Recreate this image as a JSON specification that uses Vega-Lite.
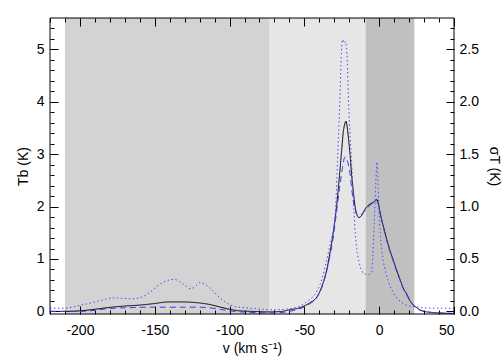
{
  "$schema": "https://vega.github.io/schema/vega-lite/v6.json",
  "width": 404,
  "height": 296,
  "autosize": {"type": "none"},
  "padding": {"left": 50, "top": 18, "right": 50, "bottom": 46},
  "background": "white",
  "config": {
    "view": {"stroke": null},
    "font": "Liberation Sans",
    "axis": {
      "labelFont": "Liberation Sans", "titleFont": "Liberation Sans",
      "labelFontSize": 14, "titleFontSize": 14, "titleFontWeight": "normal",
      "labelColor": "#000", "titleColor": "#000", "tickColor": "#000", "grid": false, "domain": false
    }
  },
  "datasets": {
    "shade": [
      {"v0": -210, "v1": -73.5, "region": "a"},
      {"v0": -73.5, "v1": -9, "region": "b"},
      {"v0": -9, "v1": 23.5, "region": "c"}
    ],
    "tb": [
      {"series": "Tb", "v": -220, "T": 0.0}, {"series": "Tb", "v": -210, "T": 0.0}, {"series": "Tb", "v": -200, "T": 0.01},
      {"series": "Tb", "v": -190, "T": 0.04}, {"series": "Tb", "v": -182, "T": 0.07}, {"series": "Tb", "v": -171, "T": 0.1},
      {"series": "Tb", "v": -160, "T": 0.12}, {"series": "Tb", "v": -150, "T": 0.15}, {"series": "Tb", "v": -141, "T": 0.18},
      {"series": "Tb", "v": -131, "T": 0.18}, {"series": "Tb", "v": -120, "T": 0.16}, {"series": "Tb", "v": -113, "T": 0.13},
      {"series": "Tb", "v": -106, "T": 0.08}, {"series": "Tb", "v": -100, "T": 0.04}, {"series": "Tb", "v": -93, "T": 0.01},
      {"series": "Tb", "v": -85, "T": 0.0}, {"series": "Tb", "v": -73, "T": -0.01}, {"series": "Tb", "v": -65, "T": 0.0},
      {"series": "Tb", "v": -60, "T": 0.03}, {"series": "Tb", "v": -53, "T": 0.07}, {"series": "Tb", "v": -46, "T": 0.17},
      {"series": "Tb", "v": -42, "T": 0.26}, {"series": "Tb", "v": -38, "T": 0.5}, {"series": "Tb", "v": -35, "T": 0.8},
      {"series": "Tb", "v": -33, "T": 1.1}, {"series": "Tb", "v": -30.5, "T": 1.55}, {"series": "Tb", "v": -28.5, "T": 2.0},
      {"series": "Tb", "v": -26.5, "T": 2.6}, {"series": "Tb", "v": -25, "T": 3.1}, {"series": "Tb", "v": -24, "T": 3.42},
      {"series": "Tb", "v": -23, "T": 3.58}, {"series": "Tb", "v": -22.2, "T": 3.63}, {"series": "Tb", "v": -21.3, "T": 3.5},
      {"series": "Tb", "v": -20.5, "T": 3.3}, {"series": "Tb", "v": -19.5, "T": 3.0}, {"series": "Tb", "v": -18.4, "T": 2.6},
      {"series": "Tb", "v": -17.3, "T": 2.3}, {"series": "Tb", "v": -16.2, "T": 2.02}, {"series": "Tb", "v": -15, "T": 1.86},
      {"series": "Tb", "v": -13.5, "T": 1.79}, {"series": "Tb", "v": -11.5, "T": 1.84}, {"series": "Tb", "v": -9.5, "T": 1.95},
      {"series": "Tb", "v": -6, "T": 2.05}, {"series": "Tb", "v": -3, "T": 2.1}, {"series": "Tb", "v": -1.7, "T": 2.14},
      {"series": "Tb", "v": -0.5, "T": 2.05}, {"series": "Tb", "v": 0.5, "T": 1.9}, {"series": "Tb", "v": 3, "T": 1.6},
      {"series": "Tb", "v": 5, "T": 1.38}, {"series": "Tb", "v": 7, "T": 1.18}, {"series": "Tb", "v": 9.4, "T": 0.98},
      {"series": "Tb", "v": 11.5, "T": 0.8}, {"series": "Tb", "v": 13.9, "T": 0.61}, {"series": "Tb", "v": 16, "T": 0.45},
      {"series": "Tb", "v": 18.4, "T": 0.33}, {"series": "Tb", "v": 20.6, "T": 0.2}, {"series": "Tb", "v": 22.8, "T": 0.13},
      {"series": "Tb", "v": 26, "T": 0.05}, {"series": "Tb", "v": 30, "T": 0.0}, {"series": "Tb", "v": 35, "T": -0.02},
      {"series": "Tb", "v": 40, "T": -0.03}, {"series": "Tb", "v": 50, "T": -0.04},
      {"series": "model", "v": -220, "T": 0.0}, {"series": "model", "v": -200, "T": 0.0}, {"series": "model", "v": -193, "T": 0.01},
      {"series": "model", "v": -182, "T": 0.05}, {"series": "model", "v": -169, "T": 0.07}, {"series": "model", "v": -150, "T": 0.08},
      {"series": "model", "v": -130, "T": 0.08}, {"series": "model", "v": -120, "T": 0.08}, {"series": "model", "v": -111, "T": 0.06},
      {"series": "model", "v": -100, "T": 0.01}, {"series": "model", "v": -85, "T": -0.02}, {"series": "model", "v": -71, "T": -0.03},
      {"series": "model", "v": -60, "T": 0.0}, {"series": "model", "v": -53, "T": 0.05}, {"series": "model", "v": -46, "T": 0.15},
      {"series": "model", "v": -42, "T": 0.25}, {"series": "model", "v": -38, "T": 0.48}, {"series": "model", "v": -35, "T": 0.78},
      {"series": "model", "v": -33, "T": 1.05}, {"series": "model", "v": -30.5, "T": 1.45}, {"series": "model", "v": -28.5, "T": 1.9},
      {"series": "model", "v": -26.5, "T": 2.35}, {"series": "model", "v": -24.5, "T": 2.75}, {"series": "model", "v": -22.8, "T": 2.95},
      {"series": "model", "v": -21.3, "T": 2.88}, {"series": "model", "v": -19.6, "T": 2.65}, {"series": "model", "v": -18.4, "T": 2.35},
      {"series": "model", "v": -17.3, "T": 2.1}, {"series": "model", "v": -16.2, "T": 1.95}, {"series": "model", "v": -14.5, "T": 1.83},
      {"series": "model", "v": -12.5, "T": 1.84}, {"series": "model", "v": -10.6, "T": 1.89}, {"series": "model", "v": -6, "T": 2.03},
      {"series": "model", "v": -3, "T": 2.09}, {"series": "model", "v": -1.7, "T": 2.12}, {"series": "model", "v": -0.5, "T": 2.02},
      {"series": "model", "v": 0.5, "T": 1.88}, {"series": "model", "v": 3, "T": 1.58}, {"series": "model", "v": 5, "T": 1.36},
      {"series": "model", "v": 7, "T": 1.16}, {"series": "model", "v": 9.4, "T": 0.96}, {"series": "model", "v": 11.5, "T": 0.78},
      {"series": "model", "v": 13.9, "T": 0.6}, {"series": "model", "v": 16, "T": 0.44}, {"series": "model", "v": 18.4, "T": 0.32},
      {"series": "model", "v": 20.6, "T": 0.2}, {"series": "model", "v": 22.8, "T": 0.12}, {"series": "model", "v": 26, "T": 0.04},
      {"series": "model", "v": 30, "T": 0.0}, {"series": "model", "v": 35, "T": -0.02}, {"series": "model", "v": 40, "T": -0.03},
      {"series": "model", "v": 50, "T": -0.04}
    ],
    "tau": [
      {"v": -220, "s": 0.03}, {"v": -211, "s": 0.03}, {"v": -205, "s": 0.04}, {"v": -199, "s": 0.06}, {"v": -190, "s": 0.09},
      {"v": -183, "s": 0.115}, {"v": -178, "s": 0.13}, {"v": -172, "s": 0.125}, {"v": -165, "s": 0.12}, {"v": -160, "s": 0.13},
      {"v": -153, "s": 0.185}, {"v": -146.5, "s": 0.26}, {"v": -140, "s": 0.3}, {"v": -137, "s": 0.305}, {"v": -134, "s": 0.29},
      {"v": -130, "s": 0.25}, {"v": -126, "s": 0.215}, {"v": -122, "s": 0.25}, {"v": -120, "s": 0.275}, {"v": -117, "s": 0.265},
      {"v": -113, "s": 0.22}, {"v": -108, "s": 0.15}, {"v": -104, "s": 0.1}, {"v": -100, "s": 0.065}, {"v": -96, "s": 0.045},
      {"v": -90, "s": 0.035}, {"v": -82, "s": 0.025}, {"v": -71, "s": 0.015}, {"v": -60, "s": 0.025}, {"v": -53, "s": 0.05},
      {"v": -47.6, "s": 0.1}, {"v": -44, "s": 0.145}, {"v": -41, "s": 0.21}, {"v": -38.4, "s": 0.3}, {"v": -35.5, "s": 0.465},
      {"v": -33, "s": 0.625}, {"v": -31, "s": 0.75}, {"v": -29.5, "s": 0.9}, {"v": -28.6, "s": 1.15}, {"v": -27.7, "s": 1.5},
      {"v": -26.8, "s": 1.8}, {"v": -26.2, "s": 2.05}, {"v": -25.5, "s": 2.38}, {"v": -24.5, "s": 2.595}, {"v": -23.5, "s": 2.56},
      {"v": -22.5, "s": 2.575}, {"v": -21.3, "s": 2.38}, {"v": -20.6, "s": 2.06}, {"v": -19.9, "s": 1.805}, {"v": -18.8, "s": 1.52},
      {"v": -17.7, "s": 1.2}, {"v": -16.8, "s": 0.945}, {"v": -16, "s": 0.75}, {"v": -15, "s": 0.6}, {"v": -13.5, "s": 0.475},
      {"v": -12, "s": 0.4}, {"v": -10.6, "s": 0.365}, {"v": -7.3, "s": 0.35}, {"v": -5, "s": 0.375}, {"v": -4.2, "s": 0.55},
      {"v": -3.4, "s": 0.8}, {"v": -2.7, "s": 1.05}, {"v": -2.1, "s": 1.275}, {"v": -1.5, "s": 1.425}, {"v": -0.9, "s": 1.3},
      {"v": -0.2, "s": 1.0}, {"v": 0.7, "s": 0.75}, {"v": 1.7, "s": 0.595}, {"v": 3, "s": 0.46}, {"v": 5, "s": 0.34},
      {"v": 7, "s": 0.25}, {"v": 9.4, "s": 0.18}, {"v": 12, "s": 0.125}, {"v": 15, "s": 0.085}, {"v": 18, "s": 0.06},
      {"v": 20.6, "s": 0.05}, {"v": 26.2, "s": 0.04}, {"v": 30, "s": 0.033}, {"v": 50, "s": 0.03}
    ],
    "frame": [{"x0": -220, "x1": 50, "y0": -0.05, "y1": 5.6}]
  },
  "layer": [
    {
      "data": {"name": "shade"},
      "mark": {"type": "rect"},
      "encoding": {
        "x": {"field": "v0", "type": "quantitative",
              "scale": {"domain": [-220, 50], "nice": false, "zero": false}, "axis": null},
        "x2": {"field": "v1"},
        "color": {"field": "region", "type": "nominal",
                  "scale": {"domain": ["a", "b", "c"], "range": ["rgba(0,0,0,0.1725)", "rgba(0,0,0,0.098)", "rgba(0,0,0,0.247)"]}, "legend": null}
      }
    },
    {
      "data": {"name": "tb"},
      "mark": {"type": "line", "strokeWidth": 1, "interpolate": "monotone", "clip": true},
      "encoding": {
        "x": {"field": "v", "type": "quantitative",
              "scale": {"domain": [-220, 50], "nice": false, "zero": false},
              "axis": {"orient": "bottom", "values": [-200, -150, -100, -50, 0, 50], "offset": -8, "tickSize": 8, "labelPadding": 9,
                       "labelExpr": "replace(datum.label, '\u2212', '-')", "title": "v (km s\u207b\u00b9)", "titlePadding": 4}},
        "y": {"field": "T", "type": "quantitative",
              "scale": {"domain": [-0.05, 5.6], "nice": false, "zero": false},
              "axis": {"orient": "left", "values": [0, 1, 2, 3, 4, 5], "offset": -8, "tickSize": 8, "labelPadding": 6,
                       "title": "Tb (K)", "titlePadding": 6}},
        "color": {"field": "series", "type": "nominal",
                  "scale": {"domain": ["Tb", "model"], "range": ["#000000", "#3a3aff"]}, "legend": null},
        "strokeDash": {"field": "series", "type": "nominal",
                       "scale": {"domain": ["Tb", "model"], "range": [[1, 0], [6, 4]]}, "legend": null}
      }
    },
    {
      "data": {"name": "tau"},
      "mark": {"type": "line", "strokeWidth": 1, "interpolate": "monotone", "color": "#4a4aff", "strokeDash": [1.5, 2.5], "clip": true},
      "encoding": {
        "x": {"field": "v", "type": "quantitative",
              "scale": {"domain": [-220, 50], "nice": false, "zero": false},
              "axis": {"orient": "bottom", "values": [-220, -210, -200, -190, -180, -170, -160, -150, -140, -130, -120, -110, -100, -90, -80, -70, -60, -50, -40, -30, -20, -10, 0, 10, 20, 30, 40, 50],
                       "offset": -4, "tickSize": 4, "labels": false, "title": null}},
        "y": {"field": "s", "type": "quantitative",
              "scale": {"domain": [-0.025, 2.8], "nice": false, "zero": false},
              "axis": {"orient": "right", "values": [0, 0.5, 1, 1.5, 2, 2.5], "format": ".1f", "offset": -8, "tickSize": 8, "labelPadding": 5,
                       "title": "\u03c3T (K)", "titlePadding": 8}}
      }
    },
    {
      "data": {"name": "tb"},
      "mark": {"type": "point", "opacity": 0},
      "encoding": {
        "x": {"field": "v", "type": "quantitative",
              "scale": {"domain": [-220, 50], "nice": false, "zero": false},
              "axis": {"orient": "top", "values": [-220, -210, -200, -190, -180, -170, -160, -150, -140, -130, -120, -110, -100, -90, -80, -70, -60, -50, -40, -30, -20, -10, 0, 10, 20, 30, 40, 50],
                       "offset": -4, "tickSize": 4, "labels": false, "title": null}},
        "y": {"field": "T", "type": "quantitative",
              "scale": {"domain": [-0.05, 5.6], "nice": false, "zero": false},
              "axis": {"orient": "left", "values": [0, 0.2, 0.4, 0.6, 0.8, 1, 1.2, 1.4, 1.6, 1.8, 2, 2.2, 2.4, 2.6, 2.8, 3, 3.2, 3.4, 3.6, 3.8, 4, 4.2, 4.4, 4.6, 4.8, 5, 5.2, 5.4],
                       "offset": -4, "tickSize": 4, "labels": false, "title": null}}
      }
    },
    {
      "data": {"name": "tau"},
      "mark": {"type": "point", "opacity": 0},
      "encoding": {
        "x": {"field": "v", "type": "quantitative",
              "scale": {"domain": [-220, 50], "nice": false, "zero": false},
              "axis": {"orient": "top", "values": [-200, -150, -100, -50, 0, 50], "offset": -8, "tickSize": 8, "labels": false, "title": null}},
        "y": {"field": "s", "type": "quantitative",
              "scale": {"domain": [-0.025, 2.8], "nice": false, "zero": false},
              "axis": {"orient": "right", "values": [0, 0.1, 0.2, 0.3, 0.4, 0.5, 0.6, 0.7, 0.8, 0.9, 1, 1.1, 1.2, 1.3, 1.4, 1.5, 1.6, 1.7, 1.8, 1.9, 2, 2.1, 2.2, 2.3, 2.4, 2.5, 2.6, 2.7],
                       "offset": -4, "tickSize": 4, "labels": false, "title": null}}
      }
    },
    {
      "data": {"name": "frame"},
      "mark": {"type": "rect", "fill": null, "fillOpacity": 0, "stroke": "black", "strokeWidth": 1},
      "encoding": {
        "x": {"field": "x0", "type": "quantitative", "scale": {"domain": [-220, 50], "nice": false, "zero": false}, "axis": null},
        "x2": {"field": "x1"},
        "y": {"field": "y0", "type": "quantitative", "scale": {"domain": [-0.05, 5.6], "nice": false, "zero": false}, "axis": null},
        "y2": {"field": "y1"}
      }
    }
  ],
  "resolve": {
    "scale": {"y": "independent", "color": "independent", "strokeDash": "independent"},
    "axis": {"x": "independent", "y": "independent"}
  }
}
